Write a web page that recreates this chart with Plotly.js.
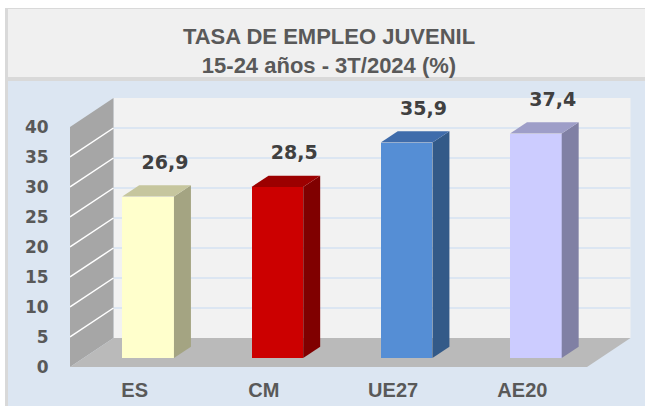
<!DOCTYPE html>
<html><head><meta charset="utf-8">
<script src="https://cdn.plot.ly/plotly-3.0.1.min.js"></script>
<style>html,body{margin:0;padding:0;background:#fff;}#chart{width:645px;height:406px;}</style>
</head><body><div id="chart"></div>
<script>
// ---- data ----
const categories = ["ES", "CM", "UE27", "AE20"];
const values = [26.9, 28.5, 35.9, 37.4];
const yTicks = [0, 5, 10, 15, 20, 25, 30, 35, 40];

// ---- styles ----
const frontColors = ["#ffffcc", "#cc0000", "#558ed5", "#ccccff"];
const sideColors  = ["#a4a482", "#800000", "#335a88", "#8080a4"];
const topColors   = ["#c6c69e", "#9c0000", "#3f6cab", "#9e9ec8"];

// ---- geometry ----
const W = 645, H = 406, L = 70, R = 13, T = 85, B = 39;
const pxPerX = 129.25, pxPerY = 6;
const xMin = -0.5, xMax = xMin + (W - L - R) / pxPerX;
const yMin = 0, yMax = (H - T - B) / pxPerY;
const DX = 43.5 / pxPerX, DY = 29 / pxPerY;       // 3D depth offset
const yTop = yTicks[yTicks.length - 1];
const xLeft = -0.5, xRight = categories.length - 0.5;
const barFront = 0.31, barBack = 0.70, barWidth = 0.4;
const bdx = (barBack - barFront) * DX, bdy = (barBack - barFront) * DY;
const base = barFront * DY;
const off = -barWidth / 2 + barFront * DX;

const px2paperX = p => (p - L) / (W - L - R);
const px2paperY = p => (H - B - p) / (H - T - B);

const shapes = [];
function paperRect(x0, y0, x1, y1, color) {
  shapes.push({type: 'rect', xref: 'paper', yref: 'paper', layer: 'below',
    x0: px2paperX(x0), x1: px2paperX(x1), y0: px2paperY(y1), y1: px2paperY(y0),
    fillcolor: color, line: {width: 0}});
}
paperRect(5, 8, 660, 420, '#d9d9d9');
paperRect(8, 9, 660, 77, '#f0f0f0');
paperRect(8, 81, 660, 420, '#dce6f2');

function poly(pts, fill, line) {
  const d = 'M' + pts.map(p => p[0] + ',' + p[1]).join(' L') + ' Z';
  shapes.push({type: 'path', xref: 'x', yref: 'y', layer: 'below', path: d,
    fillcolor: fill, line: line || {width: 0}});
}
function seg(a, b, color, w) {
  shapes.push({type: 'line', xref: 'x', yref: 'y', layer: 'below',
    x0: a[0], y0: a[1], x1: b[0], y1: b[1], line: {color: color, width: w}});
}
// back wall
poly([[xLeft + DX, DY], [xRight + DX, DY], [xRight + DX, yTop + DY], [xLeft + DX, yTop + DY]], '#f2f2f2');
yTicks.slice(1, -1).forEach(v => seg([xLeft + DX, v + DY], [xRight + DX, v + DY], '#dce6f2', 2));
// left wall
poly([[xLeft, 0], [xLeft + DX, DY], [xLeft + DX, yTop + DY], [xLeft, yTop]], '#a6a6a6');
yTicks.slice(1, -1).forEach(v => seg([xLeft, v], [xLeft + DX, v + DY], '#ffffff', 1.5));
// floor
poly([[xLeft, 0], [xRight, 0], [xRight + DX, DY], [xLeft + DX, DY]], '#bababa');

const idx = categories.map((c, i) => i);
const traces = [];
traces.push({type: 'bar', x: idx, y: values, base: base, width: barWidth, offset: off,
  marker: {color: frontColors, line: {width: 0}}, hoverinfo: 'skip', showlegend: false});
values.forEach((v, i) => {
  const xl = i + off, xr = xl + barWidth, y0 = base, y1 = base + v;
  traces.push({type: 'scatter', mode: 'lines', fill: 'toself', fillcolor: sideColors[i],
    line: {width: 0}, x: [xr, xr + bdx, xr + bdx, xr, xr], y: [y0, y0 + bdy, y1 + bdy, y1, y0],
    hoverinfo: 'skip', showlegend: false});
  traces.push({type: 'scatter', mode: 'lines', fill: 'toself', fillcolor: topColors[i],
    line: {width: 0}, x: [xl, xr, xr + bdx, xl + bdx, xl], y: [y1, y1, y1 + bdy, y1 + bdy, y1],
    hoverinfo: 'skip', showlegend: false});
});
traces.push({type: 'scatter', mode: 'text', x: idx.map(i => i + 0.235),
  y: values.map(v => base + v + bdy + 3.5),
  text: values.map(v => v.toFixed(1).replace('.', ',')),
  textposition: 'middle center', cliponaxis: false,
  textfont: {family: 'DejaVu Sans', size: 19, color: '#404040', weight: 'bold'},
  hoverinfo: 'skip', showlegend: false});

const layout = {
  width: W, height: H, margin: {l: L, r: R, t: T, b: B, pad: 0},
  paper_bgcolor: '#ffffff', plot_bgcolor: 'rgba(0,0,0,0)',
  showlegend: false, bargap: 0,
  title: {text: '<b>TASA DE EMPLEO JUVENIL</b><br><b>15-24 años - 3T/2024 (%)</b>',
    x: 329 / W, xanchor: 'center', y: 1 - 44 / H, yanchor: 'middle', yref: 'container',
    font: {family: 'Liberation Sans', size: 22, color: '#595959'}},
  xaxis: {range: [xMin, xMax], tickvals: idx, ticktext: categories,
    showgrid: false, zeroline: false, showline: false,
    ticks: 'outside', ticklen: 5, tickcolor: 'rgba(0,0,0,0)',
    tickfont: {family: 'Liberation Sans', size: 20, color: '#595959', weight: 'bold'},
    fixedrange: true},
  yaxis: {range: [yMin, yMax], tickvals: yTicks, ticktext: yTicks.map(String),
    showgrid: false, zeroline: false, showline: false,
    ticks: 'outside', ticklen: 17, tickcolor: 'rgba(0,0,0,0)',
    tickfont: {family: 'DejaVu Sans', size: 17, color: '#595959', weight: 'bold'},
    fixedrange: true},
  shapes: shapes
};
Plotly.newPlot('chart', traces, layout, {displayModeBar: false, staticPlot: true});
</script>
</body></html>
